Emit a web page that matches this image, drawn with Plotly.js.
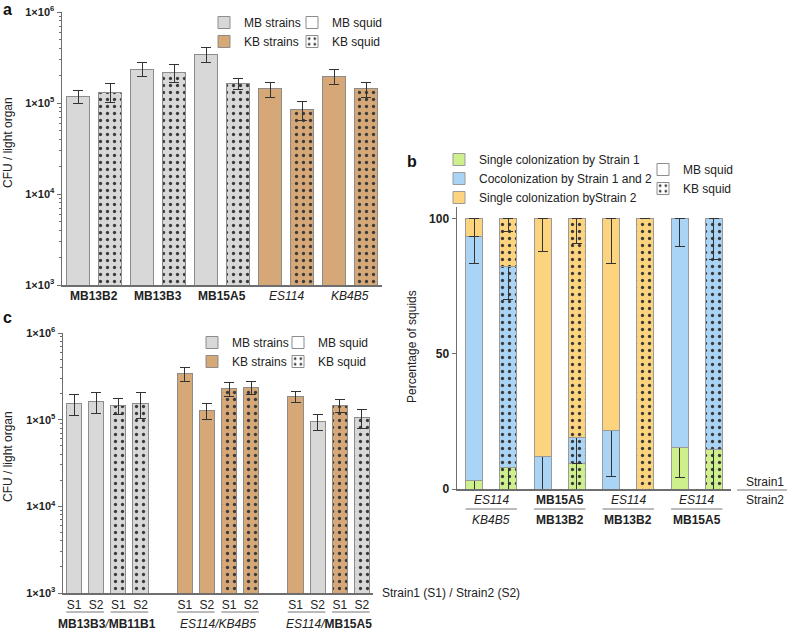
<!DOCTYPE html>
<html><head><meta charset="utf-8">
<script src="https://cdn.plot.ly/plotly-3.0.1.min.js"></script>
<style>html,body{margin:0;padding:0;background:#fff}#chart{width:787px;height:631px}</style>
</head><body><div id="chart"></div>
<script>
// ---------------- Panel a data ----------------
const aStrains = ['MB13B2', 'MB13B3', 'MB15A5', 'ES114', 'KB4B5'];
const aSquidTypes = ['MB', 'KB'];
const aMBsquidCFU = [1.18e5, 2.36e5, 3.45e5, 1.43e5, 1.98e5];
const aMBsquidErr = [0.20e5, 0.40e5, 0.67e5, 0.27e5, 0.38e5];
const aKBsquidCFU = [1.32e5, 2.14e5, 1.62e5, 0.84e5, 1.43e5];
const aKBsquidErr = [0.30e5, 0.48e5, 0.22e5, 0.19e5, 0.27e5];

// ---------------- Panel b data ----------------
const bStrain1 = ['ES114', 'MB15A5', 'ES114', 'ES114'];
const bStrain2 = ['KB4B5', 'MB13B2', 'MB13B2', 'MB15A5'];
const bSeriesNames = ['Single colonization by Strain 1', 'Cocolonization by Strain 1 and 2', 'Single colonization byStrain 2'];
const bSingle1MB = [3.3, 0, 0, 15.2];
const bCocolMB = [90, 12, 21.5, 84.8];
const bSingle2MB = [6.7, 88, 78.5, 0];
const bSingle1KB = [8.1, 9.6, 0, 14.8];
const bCocolKB = [74.1, 9.3, 0, 85.2];
const bSingle2KB = [17.8, 81.1, 100, 0];
const bSingle1ErrMB = [3.3, 0, 0, 10.8];
const bCocolErrMB = [10, 12, 17, 10.4];
const bSingle2ErrMB = [6.7, 12, 16.7, 0];
const bSingle1ErrKB = [8.1, 9.6, 0, 14.8];
const bCocolErrKB = [12, 9.3, 0, 15];
const bSingle2ErrKB = [4.5, 9, 0, 0];

// ---------------- Panel c data ----------------
const cPairs = ['MB13B3/MB11B1', 'ES114/KB4B5', 'ES114/MB15A5'];
const cBarLabels = ['S1', 'S2', 'S1', 'S2'];
const cBarSquid = ['MB', 'MB', 'KB', 'KB'];
const cCFU = [[1.53e5, 1.61e5, 1.45e5, 1.53e5], [3.38e5, 1.27e5, 2.27e5, 2.33e5], [1.84e5, 0.95e5, 1.45e5, 1.05e5]];
const cErr = [[0.41e5, 0.43e5, 0.29e5, 0.51e5], [0.62e5, 0.26e5, 0.43e5, 0.40e5], [0.26e5, 0.19e5, 0.25e5, 0.25e5]];

const yTickVals = [1e3, 1e4, 1e5, 1e6];
const yTickText = ['1×10<sup>3</sup>', '1×10<sup>4</sup>', '1×10<sup>5</sup>', '1×10<sup>6</sup>'];

// ---------------- styling ----------------
const FONT = 'Liberation Sans, Arial, sans-serif';
const W = 787, H = 631;
const X = px => px / W, Y = py => 1 - py / H;
const COL = { MB: '#d8d8d8', KB: '#d6a777', white: '#ffffff', green: '#cdf08c', blue: '#a9d4f6', orange: '#fdd47e' };
const AX = '#6e6e6e', OUT = '#8c8c8c', ERR = '#333333';
const strainType = s => s.startsWith('MB') ? 'MB' : 'KB';
const fmtName = s => s.startsWith('MB') ? '<b>' + s + '</b>' : '<i>' + s + '</i>';
const pat = sq => sq === 'KB' ? '.' : '';
const patternOf = (shapes, color) => ({ shape: shapes, bgcolor: color, fgcolor: '#3a3a3a', fillmode: 'replace', size: 7, solidity: 0.17 });

const minorVals = [];
[1e3, 1e4, 1e5].forEach(d => { for (let k = 2; k <= 9; k++) minorVals.push(k * d); });

const traces = [];

// one trace per strain colour (MB / KB strains), so each pattern gets a single background colour
function typedBars(rows, xa, ya, width) {
  ['MB', 'KB'].forEach(t => {
    const sel = rows.filter(r => r.type === t);
    traces.push({ type: 'bar', x: sel.map(r => r.x), y: sel.map(r => r.y), xaxis: xa, yaxis: ya, width: width,
      showlegend: false,
      marker: { color: COL[t], line: { color: OUT, width: 1 }, pattern: patternOf(sel.map(r => pat(r.squid)), COL[t]) },
      error_y: { type: 'data', array: sel.map(r => r.e), color: ERR, thickness: 1, width: 5 } });
  });
}

// Panel a bars
const aRows = [];
aStrains.forEach((s, i) => {
  aSquidTypes.forEach(sq => aRows.push({ x: s + ' ' + sq, y: sq === 'MB' ? aMBsquidCFU[i] : aKBsquidCFU[i],
    e: sq === 'MB' ? aMBsquidErr[i] : aKBsquidErr[i], type: strainType(s), squid: sq }));
});
typedBars(aRows, 'x', 'y', 0.69);

// Panel b stacked bars
const bX = [];
bStrain1.forEach((s1, i) => { ['MB', 'KB'].forEach(sq => bX.push(s1 + '/' + bStrain2[i] + ' ' + sq)); });
const bPat = bX.map(x => pat(x.endsWith('KB') ? 'KB' : 'MB'));
const inter = (m, k) => m.flatMap((v, i) => [v, k[i]]);
const bData = [
  [inter(bSingle1MB, bSingle1KB), inter(bSingle1ErrMB, bSingle1ErrKB), COL.green],
  [inter(bCocolMB, bCocolKB), inter(bCocolErrMB, bCocolErrKB), COL.blue],
  [inter(bSingle2MB, bSingle2KB), inter(bSingle2ErrMB, bSingle2ErrKB), COL.orange]
];
bData.forEach((d, j) => {
  traces.push({ type: 'bar', name: bSeriesNames[j], x: bX, y: d[0], xaxis: 'x2', yaxis: 'y2', width: 0.5,
    legend: 'legend', marker: { color: d[2], line: { color: '#9a9a9a', width: 1 }, pattern: patternOf(bPat, d[2]) },
    error_y: { type: 'data', symmetric: false, array: d[1].map(() => 0), arrayminus: d[1], color: ERR, thickness: 1, width: 5 } });
});

// Panel c bars
const cCats = [], cX = [], cTickText = [], cRows = [];
cPairs.forEach((p, g) => {
  const names = p.split('/');
  if (g > 0) cCats.push('gap' + g);
  cBarLabels.forEach((lab, i) => {
    const id = p + ' ' + lab + ' ' + cBarSquid[i];
    cCats.push(id); cX.push(id); cTickText.push(lab);
    cRows.push({ x: id, y: cCFU[g][i], e: cErr[g][i], type: strainType(lab === 'S1' ? names[0] : names[1]), squid: cBarSquid[i] });
  });
});
typedBars(cRows, 'x3', 'y3', 0.68);

// Legend-only key entries
function key(name, color, shape, legend, xa, ya) {
  return { type: 'bar', name: name, x: [null], y: [null], xaxis: xa, yaxis: ya, legend: legend, showlegend: true,
    marker: { color: color, line: { color: OUT, width: 1 }, pattern: patternOf(shape, color) } };
}
traces.push(key('MB squid', COL.white, '', 'legend2', 'x2', 'y2'));
traces.push(key('KB squid', COL.white, '.', 'legend2', 'x2', 'y2'));
traces.push(key('MB strains', COL.MB, '', 'legend3', 'x', 'y'));
traces.push(key('KB strains', COL.KB, '', 'legend3', 'x', 'y'));
traces.push(key('MB squid', COL.white, '', 'legend4', 'x', 'y'));
traces.push(key('KB squid', COL.white, '.', 'legend4', 'x', 'y'));
traces.push(key('MB strains', COL.MB, '', 'legend5', 'x3', 'y3'));
traces.push(key('KB strains', COL.KB, '', 'legend5', 'x3', 'y3'));
traces.push(key('MB squid', COL.white, '', 'legend6', 'x3', 'y3'));
traces.push(key('KB squid', COL.white, '.', 'legend6', 'x3', 'y3'));

function legendCfg(xpx, ypx) {
  return { x: X(xpx), y: Y(ypx), xanchor: 'left', yanchor: 'top', orientation: 'v', bgcolor: 'rgba(0,0,0,0)',
    borderwidth: 0, font: { family: FONT, size: 12, color: '#222' }, itemwidth: 30, tracegroupgap: 0,
    traceorder: 'normal', itemclick: false, itemdoubleclick: false };
}

const tickFont = { family: FONT, size: 11, color: '#222', weight: 'bold' };
function logY(domain, anchor) {
  return { domain: domain, anchor: anchor, type: 'log', range: [3, 6], tickvals: yTickVals, ticktext: yTickText,
    tickfont: tickFont, ticks: 'outside', ticklen: 4, tickcolor: AX, tickwidth: 1, showline: true, linecolor: AX,
    linewidth: 1.5, showgrid: false, zeroline: false,
    minor: { tickvals: minorVals, ticks: 'outside', ticklen: 2, tickcolor: AX, showgrid: false } };
}
function catX(domain, anchor, range, extra) {
  return Object.assign({ domain: domain, anchor: anchor, type: 'category', range: range, showline: true,
    linecolor: AX, linewidth: 1.5, showgrid: false, zeroline: false, ticks: '', showticklabels: false }, extra || {});
}

const annotations = [];
const shapes = [];
const baseFont = () => ({ family: FONT, size: 12, color: '#222' });
const txt = (text, xpx, ypx, opts) => annotations.push(Object.assign({ text: text, x: X(xpx), y: Y(ypx), xref: 'paper', yref: 'paper',
  xanchor: 'center', yanchor: 'middle', showarrow: false, font: baseFont() }, opts || {}));
const axTxt = (text, xa, xv, ypx) => annotations.push({ text: text, x: xv, y: Y(ypx), xref: xa, yref: 'paper',
  xanchor: 'center', yanchor: 'middle', showarrow: false, font: baseFont() });

// panel letters
txt('<b>a</b>', 7, 10, { font: { family: FONT, size: 16, color: '#111' } });
txt('<b>b</b>', 412, 161, { font: { family: FONT, size: 16, color: '#111' } });
txt('<b>c</b>', 7, 317, { font: { family: FONT, size: 16, color: '#111' } });
// y titles
txt('CFU / light organ', 8, 143, { textangle: -90 });
txt('CFU / light organ', 8, 457, { textangle: -90 });
txt('Percentage of squids', 412, 347, { textangle: -90 });

// panel a strain labels
aStrains.forEach((s, i) => axTxt(fmtName(s), 'x', 2 * i + 0.5, 296));

// panel b pair labels
bStrain1.forEach((s1, i) => {
  axTxt(fmtName(s1), 'x2', 2 * i + 0.5, 500);
  axTxt(fmtName(bStrain2[i]), 'x2', 2 * i + 0.5, 520);
  shapes.push({ type: 'line', xref: 'x2', yref: 'paper', x0: 2 * i - 0.25, x1: 2 * i + 1.25, y0: Y(509), y1: Y(509),
    line: { color: '#777', width: 1 } });
});
txt('Strain1', 765, 482);
txt('Strain2', 765, 500);
shapes.push({ type: 'line', xref: 'paper', yref: 'paper', x0: X(737), x1: X(787), y0: Y(490), y1: Y(490), line: { color: '#777', width: 1 } });

// panel c group labels
cPairs.forEach((p, g) => {
  const start = g * 5;
  [0, 2].forEach(o => shapes.push({ type: 'line', xref: 'x3', yref: 'paper', x0: start + o - 0.35, x1: start + o + 1.35,
    y0: Y(612), y1: Y(612), line: { color: '#777', width: 1 } }));
  axTxt(p.split('/').map(fmtName).join('<i>/</i>'), 'x3', start + 1.5, 624);
});
txt('Strain1 (S1) / Strain2 (S2)', 380, 593, { xanchor: 'left' });

const layout = {
  width: W, height: H, margin: { l: 0, r: 0, t: 0, b: 0 }, paper_bgcolor: '#fff', plot_bgcolor: 'rgba(0,0,0,0)',
  barmode: 'stack', bargap: 0, font: { family: FONT, size: 12, color: '#222' },
  xaxis: catX([X(62), X(382)], 'y', [-0.5, 9.5], { categoryorder: 'array', categoryarray: aRows.map(r => r.x) }),
  yaxis: logY([Y(285), Y(12)], 'x'),
  xaxis2: catX([X(457), X(731)], 'y2', [-0.5, 7.5]),
  yaxis2: { domain: [Y(489), Y(207)], anchor: 'x2', range: [0, 104.4], tickvals: [0, 50, 100],
    ticktext: ['0', '50', '100'], tickfont: { family: FONT, size: 12, color: '#222', weight: 'bold' }, ticks: 'outside',
    ticklen: 4, tickcolor: AX, showline: true, linecolor: AX, linewidth: 1.5, showgrid: false, zeroline: false },
  xaxis3: catX([X(63), X(373)], 'y3', [-0.5, 13.5], { categoryorder: 'array', categoryarray: cCats,
    showticklabels: true, tickvals: cX, ticktext: cTickText, tickfont: { family: FONT, size: 12, color: '#222' } }),
  yaxis3: logY([Y(593), Y(333)], 'x3'),
  legend: legendCfg(439, 145),
  legend2: legendCfg(643, 155),
  legend3: legendCfg(204, 8),
  legend4: legendCfg(292, 8),
  legend5: legendCfg(192, 328),
  legend6: legendCfg(278, 328),
  annotations: annotations, shapes: shapes, showlegend: true
};

Plotly.newPlot('chart', traces, layout, { staticPlot: true, displayModeBar: false });
</script>
</body></html>
